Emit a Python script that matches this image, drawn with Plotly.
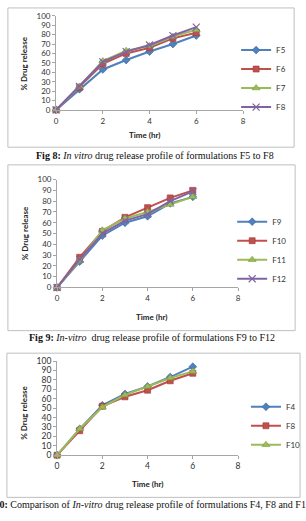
import plotly.graph_objects as go

W, H = 306, 521

time_hr = [0, 1, 2, 3, 4, 5, 6]

# Fig 8
f5 = [0, 22, 43, 53, 62, 70, 79]
f6 = [0, 24, 49, 60, 66, 76, 82]
f7 = [0, 25, 52, 63, 68, 78, 85]
f8 = [0, 25, 51, 62, 69, 79, 88]

# Fig 9
f9 = [0, 24, 48, 60, 66, 78, 84]
f10 = [0, 28, 52, 65, 74, 83, 90]
f11 = [0, 25, 53, 64, 70, 77, 84]
f12 = [0, 26, 50, 62, 68, 80, 89]

# Fig 10
c_f4 = [0, 28, 53, 65, 73, 83, 94]
c_f8 = [0, 26, 52, 62, 69, 79, 87]
c_f10 = [0, 28, 51, 64, 73, 82, 89]

y_ticks = list(range(0, 101, 10))
x_ticks = [0, 2, 4, 6, 8]

BLUE, RED, GREEN, PURPLE = "#4F81BD", "#C0504D", "#9BBB59", "#8064A2"
STYLE = {
    "blue": (BLUE, "diamond", "#3A6496"),
    "red": (RED, "square", "#9C3A37"),
    "green": (GREEN, "triangle-up", "#7A9A3E"),
    "purple": (PURPLE, "x-thin", PURPLE),
}

FONT = "Lato, 'Liberation Sans', sans-serif"
SERIF = "'Liberation Serif', 'DejaVu Serif', serif"

def px(x):
    return x / W

def py(y):
    return 1 - y / H

fig = go.Figure()

def add(name, ys, style, xa, ya, leg):
    color, sym, edge = STYLE[style]
    if sym == "x-thin":
        marker = dict(symbol=sym, size=7, color=color, line=dict(color=color, width=1.2))
    else:
        marker = dict(symbol=sym, size=6 if sym != "triangle-up" else 7, color=color,
                      line=dict(color=edge, width=0.6))
    fig.add_trace(go.Scatter(x=time_hr, y=ys, name=name, mode="lines+markers",
                             line=dict(color=color, width=2), marker=marker,
                             xaxis=xa, yaxis=ya, legend=leg, cliponaxis=False))

add("F5", f5, "blue", "x", "y", "legend")
add("F6", f6, "red", "x", "y", "legend")
add("F7", f7, "green", "x", "y", "legend")
add("F8", f8, "purple", "x", "y", "legend")

add("F9", f9, "blue", "x2", "y2", "legend2")
add("F10", f10, "red", "x2", "y2", "legend2")
add("F11", f11, "green", "x2", "y2", "legend2")
add("F12", f12, "purple", "x2", "y2", "legend2")

add("F4", c_f4, "blue", "x3", "y3", "legend3")
add("F8", c_f8, "red", "x3", "y3", "legend3")
add("F10", c_f10, "green", "x3", "y3", "legend3")

AX = "#A6A6A6"

def xaxis(domain, anchor, size):
    return dict(domain=domain, anchor=anchor, range=[0, 8], tickvals=x_ticks,
                showgrid=False, zeroline=False, showline=True, linecolor=AX, linewidth=1,
                ticks="outside", ticklen=3, tickcolor=AX,
                tickfont=dict(family=FONT, size=size, color="#333"))

def yaxis(domain, anchor, size):
    return dict(domain=domain, anchor=anchor, range=[0, 100], tickvals=y_ticks,
                showgrid=False, zeroline=False, showline=True, linecolor=AX, linewidth=1,
                ticks="outside", ticklen=3, tickcolor=AX,
                tickfont=dict(family=FONT, size=size, color="#333"))

def leg(ycenter, x_left):
    return dict(x=px(x_left), xanchor="left", y=py(ycenter), yanchor="middle",
                font=dict(family=FONT, size=8, color="#333"), bgcolor="rgba(0,0,0,0)",
                itemwidth=30, tracegroupgap=0)

fig.update_layout(
    width=W, height=H, autosize=False,
    margin=dict(l=0, r=0, t=0, b=0),
    paper_bgcolor="white", plot_bgcolor="white",
    xaxis=xaxis([px(55), px(245)], "y", 8),
    yaxis=yaxis([py(107), py(11)], "x", 8),
    xaxis2=xaxis([px(56), px(240)], "y2", 8),
    yaxis2=yaxis([py(288), py(178)], "x2", 8),
    xaxis3=xaxis([px(56), px(240)], "y3", 8.5),
    yaxis3=yaxis([py(459), py(363)], "x3", 8.5),
    legend=leg(75, 238),
    legend2=leg(250, 234),
    legend3=leg(429, 248),
    showlegend=True,
)

# chart frames
for (x0, y0, x1, y1) in [(6, 3, 297, 145), (6, 163, 298, 332), (5, 355, 303, 502)]:
    fig.add_shape(type="rect", xref="paper", yref="paper",
                  x0=px(x0), x1=px(x1), y0=py(y1), y1=py(y0),
                  line=dict(color="#BFBFBF", width=1), fillcolor="rgba(0,0,0,0)", layer="below")

def ann(text, x, y, size, family, angle=0, color="#222"):
    fig.add_annotation(text=text, x=px(x), y=py(y), xref="paper", yref="paper",
                       showarrow=False, textangle=angle, xanchor="center", yanchor="middle",
                       font=dict(family=family, size=size, color=color))

# axis titles
ann("<b>Time (hr)</b>", 145, 133, 8, FONT)
ann("<b>Time (hr)</b>", 152, 318, 8, FONT)
ann("<b>Time (hr)</b>", 148, 488, 8, FONT)
ann("<b>% Drug release</b>", 22, 60, 8, FONT, angle=-90)
ann("<b>% Drug release</b>", 23, 233, 8, FONT, angle=-90)
ann("<b>% Drug release</b>", 22, 416, 8, FONT, angle=-90)

# captions
ann("<b>Fig 8:</b> <i>In vitro</i> drug release profile of formulations F5 to F8", 156, 153, 10, SERIF, color="#111")
ann("<b>Fig 9:</b> <i>In-vitro</i>  drug release profile of formulations F9 to F12", 152, 339, 10, SERIF, color="#111")
ann("<b>Fig 10:</b> Comparison of <i>In-vitro</i> drug release profile of formulations F4, F8 and F10", 145, 509, 10, SERIF, color="#111")

fig.write_html("out.html")
